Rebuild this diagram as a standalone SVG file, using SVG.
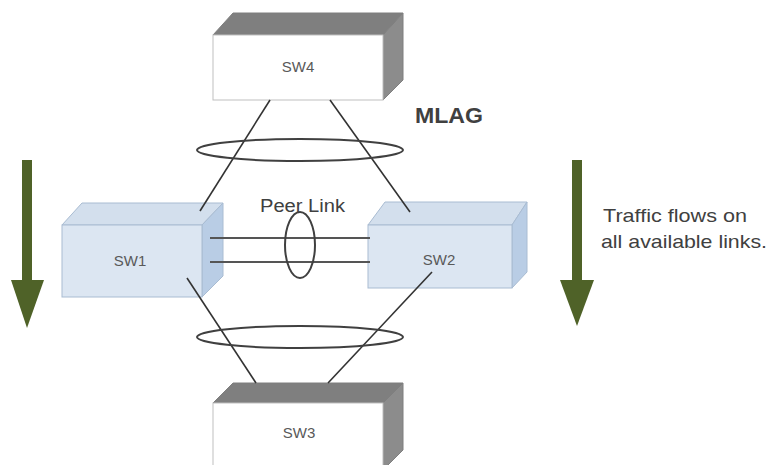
<svg xmlns="http://www.w3.org/2000/svg" width="772" height="465" viewBox="0 0 772 465">
<style>
.gfront{fill:#ffffff;stroke:#bfbfbf;stroke-width:1}
.gtop{fill:#7f7f7f;stroke:#7f7f7f;stroke-width:1}
.gright{fill:#8c8c8c;stroke:#7f7f7f;stroke-width:1}
.bfront{fill:#dce6f2;stroke:#a9bcd2;stroke-width:1}
.btop{fill:#d3dfed;stroke:#a9bcd2;stroke-width:1}
.bright{fill:#b9cde5;stroke:#a9bcd2;stroke-width:1}
.lbl{font-family:"Liberation Sans",Arial,sans-serif;font-size:15px;fill:#595959;text-anchor:middle}
.link{stroke:#333333;stroke-width:1.6;fill:none}
.peer{stroke:#555555;stroke-width:2.2;fill:none}
.ell{stroke:#404040;stroke-width:2;fill:none}
.arrow{fill:#4f6228}
.txt{font-family:"Liberation Sans",Arial,sans-serif;fill:#404040}
</style>
<rect width="772" height="465" fill="#ffffff"/>
<g id="SW4">
<polygon class="gtop" points="213,35 233,13 403,13 383,35"/>
<polygon class="gright" points="383,35 403,13 403,80 383,100"/>
<rect class="gfront" x="213" y="35" width="170" height="65"/>
<text class="lbl" x="298" y="72">SW4</text>
</g>
<g id="SW1">
<polygon class="btop" points="62,225 82,203 223,203 202,225"/>
<polygon class="bright" points="202,225 223,203 223,276 202,297"/>
<rect class="bfront" x="62" y="225" width="140" height="72"/>
<text class="lbl" x="130" y="266">SW1</text>
</g>
<g id="SW2">
<polygon class="btop" points="368,225 385,202 527,202 512,225"/>
<polygon class="bright" points="512,225 527,202 527,272 512,288"/>
<rect class="bfront" x="368" y="225" width="144" height="63"/>
<text class="lbl" x="439" y="265">SW2</text>
</g>
<g id="SW3">
<polygon class="gtop" points="213,403 233,383 403,383 383,403"/>
<polygon class="gright" points="383,403 403,383 403,450 383,470"/>
<rect class="gfront" x="213" y="403" width="170" height="70"/>
<text class="lbl" x="299" y="438">SW3</text>
</g>
<g id="connectors">
<line class="link" x1="270" y1="100" x2="200" y2="211"/>
<line class="link" x1="330" y1="100" x2="410" y2="212"/>
<line class="link" x1="187" y1="278" x2="256" y2="383"/>
<line class="link" x1="432" y1="272" x2="328" y2="383"/>
<line class="peer" x1="210" y1="238" x2="370" y2="238"/>
<line class="peer" x1="210" y1="262" x2="370" y2="262"/>
<ellipse class="ell" cx="300" cy="150" rx="103" ry="11"/>
<ellipse class="ell" cx="300" cy="337" rx="103" ry="11"/>
<ellipse class="ell" cx="300" cy="245" rx="15" ry="33"/>
</g>
<g id="arrows">
<rect class="arrow" x="22" y="160" width="10" height="122"/>
<polygon class="arrow" points="11,280 44,280 27,328"/>
<rect class="arrow" x="572" y="160" width="10" height="122"/>
<polygon class="arrow" points="560,280 594,280 577,326"/>
</g>
<text class="txt" x="415" y="123" font-size="22" font-weight="bold" fill="#262626" textLength="68" lengthAdjust="spacingAndGlyphs">MLAG</text>
<text class="txt" x="260" y="212" font-size="18" textLength="85" lengthAdjust="spacingAndGlyphs">Peer Link</text>
<text class="txt" x="603" y="222" font-size="19" textLength="144" lengthAdjust="spacingAndGlyphs">Traffic flows on</text>
<text class="txt" x="601" y="248" font-size="19" textLength="166" lengthAdjust="spacingAndGlyphs">all available links.</text>
</svg>
